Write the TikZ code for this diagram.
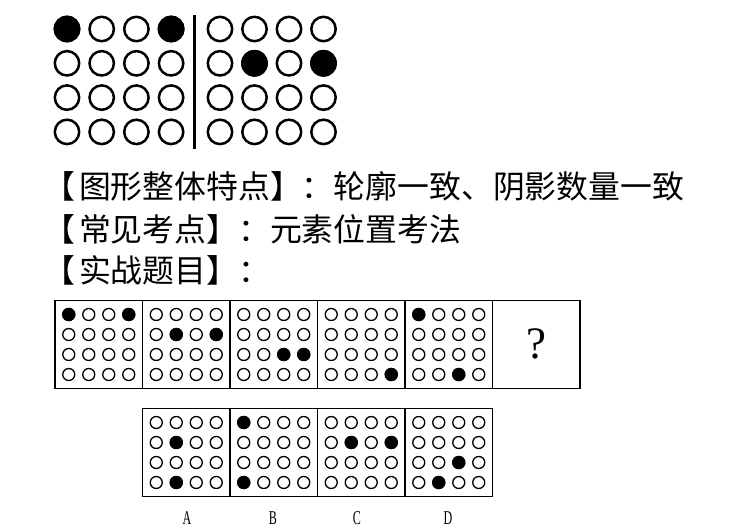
\documentclass[tikz,border=0pt]{standalone}
\usepackage{fontspec}
\setmainfont{Liberation Serif}
\newfontfamily\cjk{Noto Sans CJK SC}
\newcommand\bigring[2]{\draw[bigline] (#1,#2) circle (12.2pt);}
\newcommand\bigfill[2]{\fill (#1,#2) circle (13.4pt);}
\newcommand\dotgrid[3]{%
  \foreach \gi in {0,...,3}{\foreach \gj in {0,...,3}{
    \draw[smallline] ({#1-30+20*\gi},{#2-30+20*\gj}) circle (6pt);}}
  \foreach \gi/\gj in {#3}{\fill ({#1-30+20*\gi},{#2-30+20*\gj}) circle (6.7pt);}
}
\newcommand\lbr{\kern-4pt 【\kern4pt}
\begin{document}
\begin{tikzpicture}[x=1pt,y=-1pt,
  bigline/.style={line width=2.5pt},
  smallline/.style={line width=1.3pt},
  panel/.style={draw,line width=1.6pt,minimum width=87.5pt,minimum height=88pt,inner sep=0pt},
  cjktext/.style={anchor=base west,inner sep=0pt,font=\cjk\fontsize{31.85}{31.85}\selectfont},
  lab/.style={inner sep=0pt,font=\fontsize{19.5}{19.5}\selectfont}]
\useasboundingbox[fill=white] (0,0) rectangle (742,528);
% top grid
\foreach \i in {0,...,3}{\foreach \j in {0,...,3}{
  \bigring{67+34.7*\i}{29+34.3*\j}
  \bigring{220+34.5*\i}{29+34.3*\j}}}
\bigfill{67}{29}
\bigfill{171.1}{29}
\bigfill{254.5}{63.3}
\bigfill{323.5}{63.3}
\coordinate (dtop) at (194,15);
\coordinate (dbot) at (194,149);
\draw[line width=3pt] (dtop) -- (dbot);
% texts
\node[cjktext] (t1) at (47,198.5) {\lbr 图形整体特点】：轮廓一致、阴影数量一致};
\node[cjktext] (t2) at (47,241) {\lbr 常见考点】：元素位置考法};
\node[cjktext] (t3) at (47,282) {\lbr 实战题目】：};
% question row
\node[panel] (q1) at (98.75,344.5) {};
\node[panel] (q2) at (186.25,344.5) {};
\node[panel] (q3) at (273.75,344.5) {};
\node[panel] (q4) at (361.25,344.5) {};
\node[panel] (q5) at (448.75,344.5) {};
\node[panel] (q6) at (536.25,344.5) {};
\node[font=\fontsize{45}{45}\selectfont,inner sep=0pt] (qm) at (536,344) {?};
\dotgrid{98.75}{344.5}{0/0,3/0}
\dotgrid{186.25}{344.5}{1/1,3/1}
\dotgrid{273.75}{344.5}{2/2,3/2}
\dotgrid{361.25}{344.5}{3/3}
\dotgrid{448.75}{344.5}{0/0,2/3}
% answer row
\node[panel] (a1) at (186.25,452.5) {};
\node[panel] (a2) at (273.75,452.5) {};
\node[panel] (a3) at (361.25,452.5) {};
\node[panel] (a4) at (448.75,452.5) {};
\dotgrid{186.25}{452.5}{1/1,1/3}
\dotgrid{273.75}{452.5}{0/0,0/3}
\dotgrid{361.25}{452.5}{1/1,3/1}
\dotgrid{448.75}{452.5}{2/2,1/3}
\node[lab] (la) at (187,518.5) {\scalebox{0.62}[1]{A}};
\node[lab] (lb) at (273,518.5) {\scalebox{0.62}[1]{B}};
\node[lab] (lc) at (357,518.5) {\scalebox{0.62}[1]{C}};
\node[lab] (ld) at (448,518.5) {\scalebox{0.62}[1]{D}};
\end{tikzpicture}
\end{document}
